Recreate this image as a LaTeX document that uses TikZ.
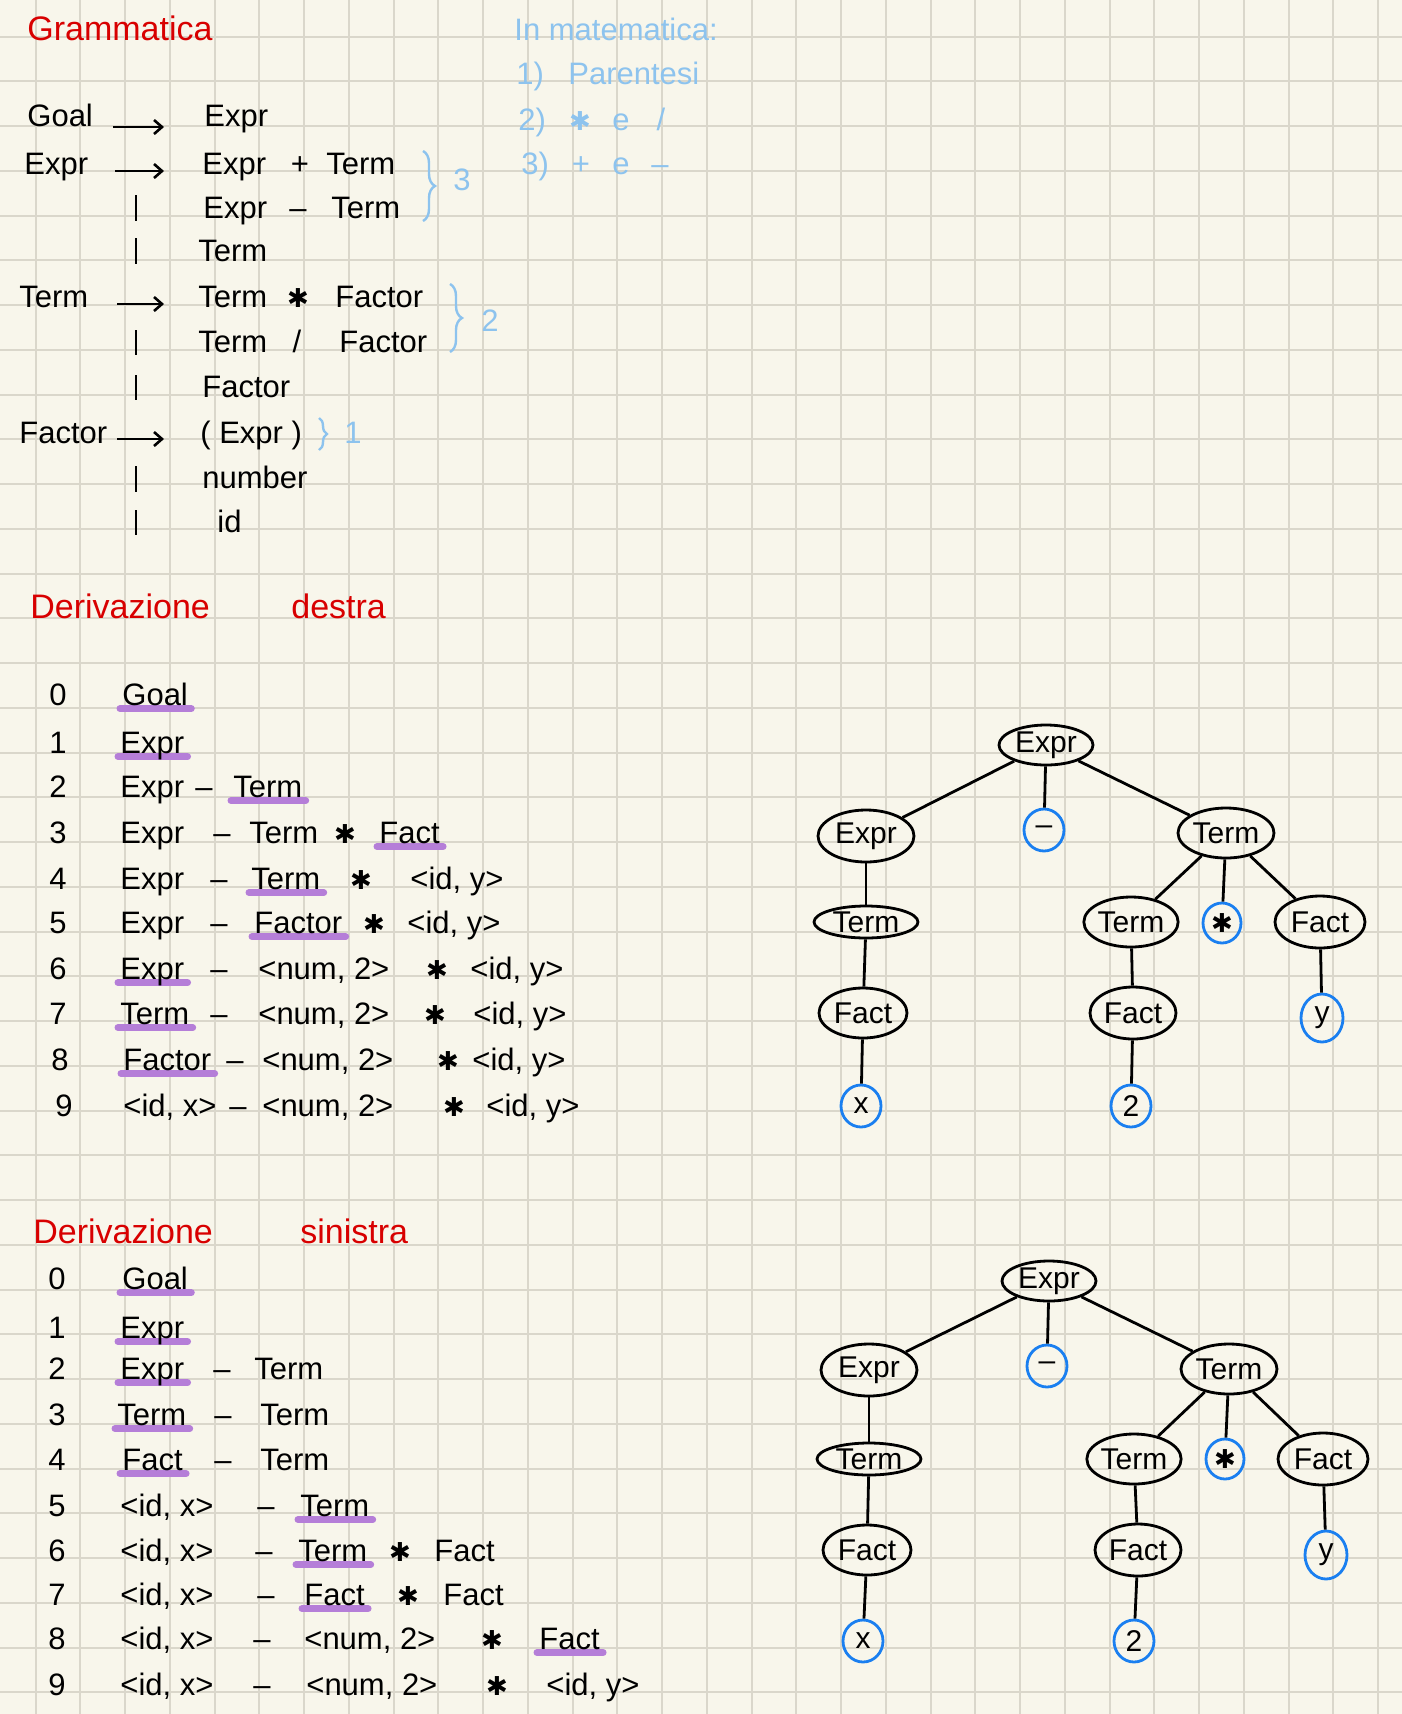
\documentclass[tikz,border=0pt]{standalone}
\usepackage{fontspec}
\setmainfont{Liberation Sans}
\newfontfamily\symfont{DejaVu Sans}
\usetikzlibrary{shapes.geometric,arrows.meta,decorations.pathreplacing}
\definecolor{paper}{HTML}{F8F6EB}
\definecolor{gridc}{HTML}{DAD7CB}
\definecolor{redink}{HTML}{D80000}
\definecolor{noteblue}{HTML}{8DC3EE}
\definecolor{hlpurple}{HTML}{B57ED8}
\definecolor{leafblue}{HTML}{1A7FF0}
\newcommand\fsnorm{\fontsize{15.5}{18}\selectfont}
\newcommand\fstitle{\fontsize{17}{20}\selectfont}
\newcommand\fstree{\fontsize{15}{17}\selectfont}
\newcommand\mystar{{\symfont\fontsize{13}{15}\selectfont ✱}}
\pgfdeclarelayer{back}
\pgfdeclarelayer{hl}
\pgfsetlayers{back,hl,main}
\newcommand\hlu[1]{\begin{pgfonlayer}{hl}\draw[hlstyle] ([xshift=-1pt,yshift=-1.8pt]#1.base west) -- ([xshift=1.5pt,yshift=-1.8pt]#1.base east);\end{pgfonlayer}}
\begin{document}
\begin{tikzpicture}[x=0.5pt,y=-0.5pt,
 txt/.style={inner sep=0pt,anchor=base west,font=\fsnorm},
 ctxt/.style={inner sep=0pt,anchor=base,font=\fsnorm},
 titl/.style={txt,text=redink,font=\fstitle},
 note/.style={txt,text=noteblue},
 cnote/.style={ctxt,text=noteblue},
 gridline/.style={draw=gridc,line width=1pt},
 prod/.style={line width=1.3pt,-{Straight Barb[length=4pt,width=7pt]}},
 barl/.style={line width=1.3pt},
 bracestyle/.style={draw=noteblue,line width=1.2pt,decorate,decoration={brace,amplitude=6pt}},
 hlstyle/.style={draw=hlpurple,line width=3.5pt,line cap=round},
 tn/.style={ellipse,draw=black,line width=1.4pt,inner sep=0pt,font=\fstree},
 leaf/.style={ellipse,draw=leafblue,line width=1.4pt,inner sep=0pt,minimum width=20pt,minimum height=21pt,font=\fstree},
 edge/.style={line width=1.4pt}]
\useasboundingbox (0,0) rectangle (1402,1714);
\begin{pgfonlayer}{back}
\fill[paper] (0,0) rectangle (1402,1714);
\foreach \i in {0,...,30} \draw[gridline] ({35.5+44.75*\i},0) -- ({35.5+44.75*\i},1714);
\foreach \j in {0,...,37} \draw[gridline] (0,{36.5+44.75*\j}) -- (1402,{36.5+44.75*\j});
\end{pgfonlayer}

% ---------- Grammatica ----------
\node[titl] (tgram) at (27,40) {Grammatica};
\node[note] (n0) at (514,40) {In matematica:};
\node[note] (n1a) at (516,84) {1)};
\node[note] (n1b) at (568,84) {Parentesi};
\node[note] (n2a) at (518,130) {2)};
\node[cnote] (n2b) at (580,130) {\mystar};
\node[cnote] (n2c) at (621,130) {e};
\node[cnote] (n2d) at (661,130) {/};
\node[note] (n3a) at (521,174) {3)};
\node[cnote] (n3b) at (581,174) {+};
\node[cnote] (n3c) at (621,174) {e};
\node[cnote] (n3d) at (660,174) {–};

% rows
\node[txt] (g1l) at (27,126) {Goal};
\coordinate (a1s) at (113,127); \coordinate (a1e) at (164,127);
\draw[prod] (a1s) -- (a1e);
\node[txt] (g1r) at (204,126) {Expr};

\node[txt] (g2l) at (24,174) {Expr};
\coordinate (a2s) at (115,171); \coordinate (a2e) at (164,171);
\draw[prod] (a2s) -- (a2e);
\node[txt] (g2a) at (202,174) {Expr};
\node[ctxt] (g2b) at (300,174) {+};
\node[txt] (g2c) at (326,174) {Term};

\coordinate (b3s) at (136,195); \coordinate (b3e) at (136,221);
\draw[barl] (b3s) -- (b3e);
\node[txt] (g3a) at (203,218) {Expr};
\node[ctxt] (g3b) at (298,218) {–};
\node[txt] (g3c) at (331,218) {Term};

\coordinate (b4s) at (136,238); \coordinate (b4e) at (136,264);
\draw[barl] (b4s) -- (b4e);
\node[txt] (g4a) at (198,261) {Term};

\node[txt] (g5l) at (19,307) {Term};
\coordinate (a5s) at (117,304); \coordinate (a5e) at (164,304);
\draw[prod] (a5s) -- (a5e);
\node[txt] (g5a) at (198,307) {Term};
\node[ctxt] (g5b) at (298,307) {\mystar};
\node[txt] (g5c) at (335,307) {Factor};

\coordinate (b6s) at (136,330); \coordinate (b6e) at (136,355);
\draw[barl] (b6s) -- (b6e);
\node[txt] (g6a) at (198,352) {Term};
\node[ctxt] (g6b) at (297,352) {/};
\node[txt] (g6c) at (339,352) {Factor};

\coordinate (b7s) at (136,375); \coordinate (b7e) at (136,400);
\draw[barl] (b7s) -- (b7e);
\node[txt] (g7a) at (202,397) {Factor};

\node[txt] (g8l) at (19,443) {Factor};
\coordinate (a8s) at (117,439); \coordinate (a8e) at (164,439);
\draw[prod] (a8s) -- (a8e);
\node[txt] (g8a) at (200,443) {( Expr )};

\coordinate (b9s) at (136,466); \coordinate (b9e) at (136,492);
\draw[barl] (b9s) -- (b9e);
\node[txt] (g9a) at (202,488) {number};

\coordinate (b10s) at (136,510); \coordinate (b10e) at (136,535);
\draw[barl] (b10s) -- (b10e);
\node[txt] (g10a) at (217,532) {id};

% braces
\coordinate (br3s) at (423,151); \coordinate (br3e) at (423,221);
\draw[bracestyle] (br3s) -- (br3e);
\node[cnote] (k3) at (462,190) {3};
\coordinate (br2s) at (450,284); \coordinate (br2e) at (450,352);
\draw[bracestyle] (br2s) -- (br2e);
\node[cnote] (k2) at (490,331) {2};
\coordinate (br1s) at (319,418); \coordinate (br1e) at (319,450);
\draw[bracestyle,decoration={brace,amplitude=4pt}] (br1s) -- (br1e);
\node[cnote] (k1) at (353,443) {1};

% ---------- Derivazione destra ----------
\node[titl] (td1) at (30,618) {Derivazione};
\node[titl] (td2) at (291,618) {destra};

\node[ctxt] (d0n) at (58,705) {0};
\node[txt] (d0a) at (122,705) {Goal}; \hlu{d0a}
\node[ctxt] (d1n) at (58,753) {1};
\node[txt] (d1a) at (120,753) {Expr}; \hlu{d1a}
\node[ctxt] (d2n) at (58,797) {2};
\node[txt] (d2a) at (120,797) {Expr};
\node[ctxt] (d2b) at (204,797) {–};
\node[txt] (d2c) at (233,797) {Term}; \hlu{d2c}
\node[ctxt] (d3n) at (58,843) {3};
\node[txt] (d3a) at (120,843) {Expr};
\node[ctxt] (d3b) at (222,843) {–};
\node[txt] (d3c) at (249,843) {Term};
\node[ctxt] (d3d) at (345,843) {\mystar};
\node[txt] (d3e) at (379,843) {Fact}; \hlu{d3e}
\node[ctxt] (d4n) at (58,889) {4};
\node[txt] (d4a) at (120,889) {Expr};
\node[ctxt] (d4b) at (219,889) {–};
\node[txt] (d4c) at (251,889) {Term}; \hlu{d4c}
\node[ctxt] (d4d) at (361,889) {\mystar};
\node[txt] (d4e) at (410,889) {<id, y>};
\node[ctxt] (d5n) at (58,933) {5};
\node[txt] (d5a) at (120,933) {Expr};
\node[ctxt] (d5b) at (219,933) {–};
\node[txt] (d5c) at (254,933) {Factor}; \hlu{d5c}
\node[ctxt] (d5d) at (374,933) {\mystar};
\node[txt] (d5e) at (407,933) {<id, y>};
\node[ctxt] (d6n) at (58,979) {6};
\node[txt] (d6a) at (120,979) {Expr}; \hlu{d6a}
\node[ctxt] (d6b) at (219,979) {–};
\node[txt] (d6c) at (258,979) {<num, 2>};
\node[ctxt] (d6d) at (437,979) {\mystar};
\node[txt] (d6e) at (470,979) {<id, y>};
\node[ctxt] (d7n) at (58,1024) {7};
\node[txt] (d7a) at (120,1024) {Term}; \hlu{d7a}
\node[ctxt] (d7b) at (219,1024) {–};
\node[txt] (d7c) at (258,1024) {<num, 2>};
\node[ctxt] (d7d) at (435,1024) {\mystar};
\node[txt] (d7e) at (473,1024) {<id, y>};
\node[ctxt] (d8n) at (60,1070) {8};
\node[txt] (d8a) at (123,1070) {Factor}; \hlu{d8a}
\node[ctxt] (d8b) at (235,1070) {–};
\node[txt] (d8c) at (262,1070) {<num, 2>};
\node[ctxt] (d8d) at (448,1070) {\mystar};
\node[txt] (d8e) at (472,1070) {<id, y>};
\node[ctxt] (d9n) at (64,1116) {9};
\node[txt] (d9a) at (123,1116) {<id, x>};
\node[ctxt] (d9b) at (238,1116) {–};
\node[txt] (d9c) at (262,1116) {<num, 2>};
\node[ctxt] (d9d) at (454,1116) {\mystar};
\node[txt] (d9e) at (486,1116) {<id, y>};

% ---------- Derivazione sinistra ----------
\node[titl] (ts1) at (33,1243) {Derivazione};
\node[titl] (ts2) at (300,1243) {sinistra};

\node[ctxt] (s0n) at (57,1289) {0};
\node[txt] (s0a) at (122,1289) {Goal}; \hlu{s0a}
\node[ctxt] (s1n) at (57,1338) {1};
\node[txt] (s1a) at (120,1338) {Expr}; \hlu{s1a}
\node[ctxt] (s2n) at (57,1379) {2};
\node[txt] (s2a) at (120,1379) {Expr}; \hlu{s2a}
\node[ctxt] (s2b) at (222,1379) {–};
\node[txt] (s2c) at (254,1379) {Term};
\node[ctxt] (s3n) at (57,1425) {3};
\node[txt] (s3a) at (117,1425) {Term}; \hlu{s3a}
\node[ctxt] (s3b) at (223,1425) {–};
\node[txt] (s3c) at (260,1425) {Term};
\node[ctxt] (s4n) at (57,1470) {4};
\node[txt] (s4a) at (122,1470) {Fact}; \hlu{s4a}
\node[ctxt] (s4b) at (223,1470) {–};
\node[txt] (s4c) at (260,1470) {Term};
\node[ctxt] (s5n) at (57,1516) {5};
\node[txt] (s5a) at (120,1516) {<id, x>};
\node[ctxt] (s5b) at (266,1516) {–};
\node[txt] (s5c) at (300,1516) {Term}; \hlu{s5c}
\node[ctxt] (s6n) at (57,1561) {6};
\node[txt] (s6a) at (120,1561) {<id, x>};
\node[ctxt] (s6b) at (264,1561) {–};
\node[txt] (s6c) at (298,1561) {Term}; \hlu{s6c}
\node[ctxt] (s6d) at (400,1561) {\mystar};
\node[txt] (s6e) at (434,1561) {Fact};
\node[ctxt] (s7n) at (57,1605) {7};
\node[txt] (s7a) at (120,1605) {<id, x>};
\node[ctxt] (s7b) at (266,1605) {–};
\node[txt] (s7c) at (304,1605) {Fact}; \hlu{s7c}
\node[ctxt] (s7d) at (408,1605) {\mystar};
\node[txt] (s7e) at (443,1605) {Fact};
\node[ctxt] (s8n) at (57,1649) {8};
\node[txt] (s8a) at (120,1649) {<id, x>};
\node[ctxt] (s8b) at (262,1649) {–};
\node[txt] (s8c) at (304,1649) {<num, 2>};
\node[ctxt] (s8d) at (492,1649) {\mystar};
\node[txt] (s8e) at (539,1649) {Fact}; \hlu{s8e}
\node[ctxt] (s9n) at (57,1695) {9};
\node[txt] (s9a) at (120,1695) {<id, x>};
\node[ctxt] (s9b) at (262,1695) {–};
\node[txt] (s9c) at (306,1695) {<num, 2>};
\node[ctxt] (s9d) at (497,1695) {\mystar};
\node[txt] (s9e) at (546,1695) {<id, y>};

% ---------- Tree 1 ----------
\node[tn,minimum width=47pt,minimum height=20pt] (aroot) at (1046,745) {Expr};
\node[tn,minimum width=48pt,minimum height=26pt] (aexpr) at (866,836) {Expr};
\node[leaf] (aminus) at (1044,830) {–};
\node[tn,minimum width=48pt,minimum height=25pt] (aterm) at (1226,833) {Term};
\node[tn,minimum width=52pt,minimum height=16pt] (atermL) at (866,922) {Term};
\node[tn,minimum width=44pt,minimum height=25pt] (afactL) at (863,1013) {Fact};
\node[leaf] (ax) at (861,1106) {x};
\node[tn,minimum width=42pt,minimum height=25pt] (atermM) at (1131,922) {Term};
\node[leaf,minimum width=19pt,minimum height=20pt] (astar) at (1222,923) {\mystar};
\node[tn,minimum width=45pt,minimum height=26pt] (afactR) at (1320,922) {Fact};
\node[tn,minimum width=43pt,minimum height=26pt] (afactM) at (1133,1013) {Fact};
\node[leaf] (atwo) at (1131,1106) {2};
\node[leaf,minimum width=21pt,minimum height=24pt] (ay) at (1322,1018) {y};
\draw[edge] (aroot) -- (aexpr);
\draw[edge] (aroot) -- (aminus);
\draw[edge] (aroot) -- (aterm);
\draw[edge] (aexpr) -- (atermL);
\draw[edge] (atermL) -- (afactL);
\draw[edge] (afactL) -- (ax);
\draw[edge] (aterm) -- (atermM);
\draw[edge] (aterm) -- (astar);
\draw[edge] (aterm) -- (afactR);
\draw[edge] (atermM) -- (afactM);
\draw[edge] (afactM) -- (atwo);
\draw[edge] (afactR) -- (ay);

% ---------- Tree 2 ----------
\node[tn,minimum width=47pt,minimum height=20pt] (broot) at (1049,1281) {Expr};
\node[tn,minimum width=48pt,minimum height=26pt] (bexpr) at (869,1370) {Expr};
\node[leaf] (bminus) at (1047,1366) {–};
\node[tn,minimum width=48pt,minimum height=25pt] (bterm) at (1229,1369) {Term};
\node[tn,minimum width=52pt,minimum height=16pt] (btermL) at (869,1459) {Term};
\node[tn,minimum width=44pt,minimum height=25pt] (bfactL) at (867,1550) {Fact};
\node[leaf] (bx) at (863,1641) {x};
\node[tn,minimum width=42pt,minimum height=25pt] (btermM) at (1134,1459) {Term};
\node[leaf,minimum width=19pt,minimum height=20pt] (bstar) at (1225,1459) {\mystar};
\node[tn,minimum width=45pt,minimum height=26pt] (bfactR) at (1323,1459) {Fact};
\node[tn,minimum width=43pt,minimum height=26pt] (bfactM) at (1138,1550) {Fact};
\node[leaf] (btwo) at (1134,1641) {2};
\node[leaf,minimum width=21pt,minimum height=24pt] (by) at (1326,1555) {y};
\draw[edge] (broot) -- (bexpr);
\draw[edge] (broot) -- (bminus);
\draw[edge] (broot) -- (bterm);
\draw[edge] (bexpr) -- (btermL);
\draw[edge] (btermL) -- (bfactL);
\draw[edge] (bfactL) -- (bx);
\draw[edge] (bterm) -- (btermM);
\draw[edge] (bterm) -- (bstar);
\draw[edge] (bterm) -- (bfactR);
\draw[edge] (btermM) -- (bfactM);
\draw[edge] (bfactM) -- (btwo);
\draw[edge] (bfactR) -- (by);
\end{tikzpicture}
\end{document}
